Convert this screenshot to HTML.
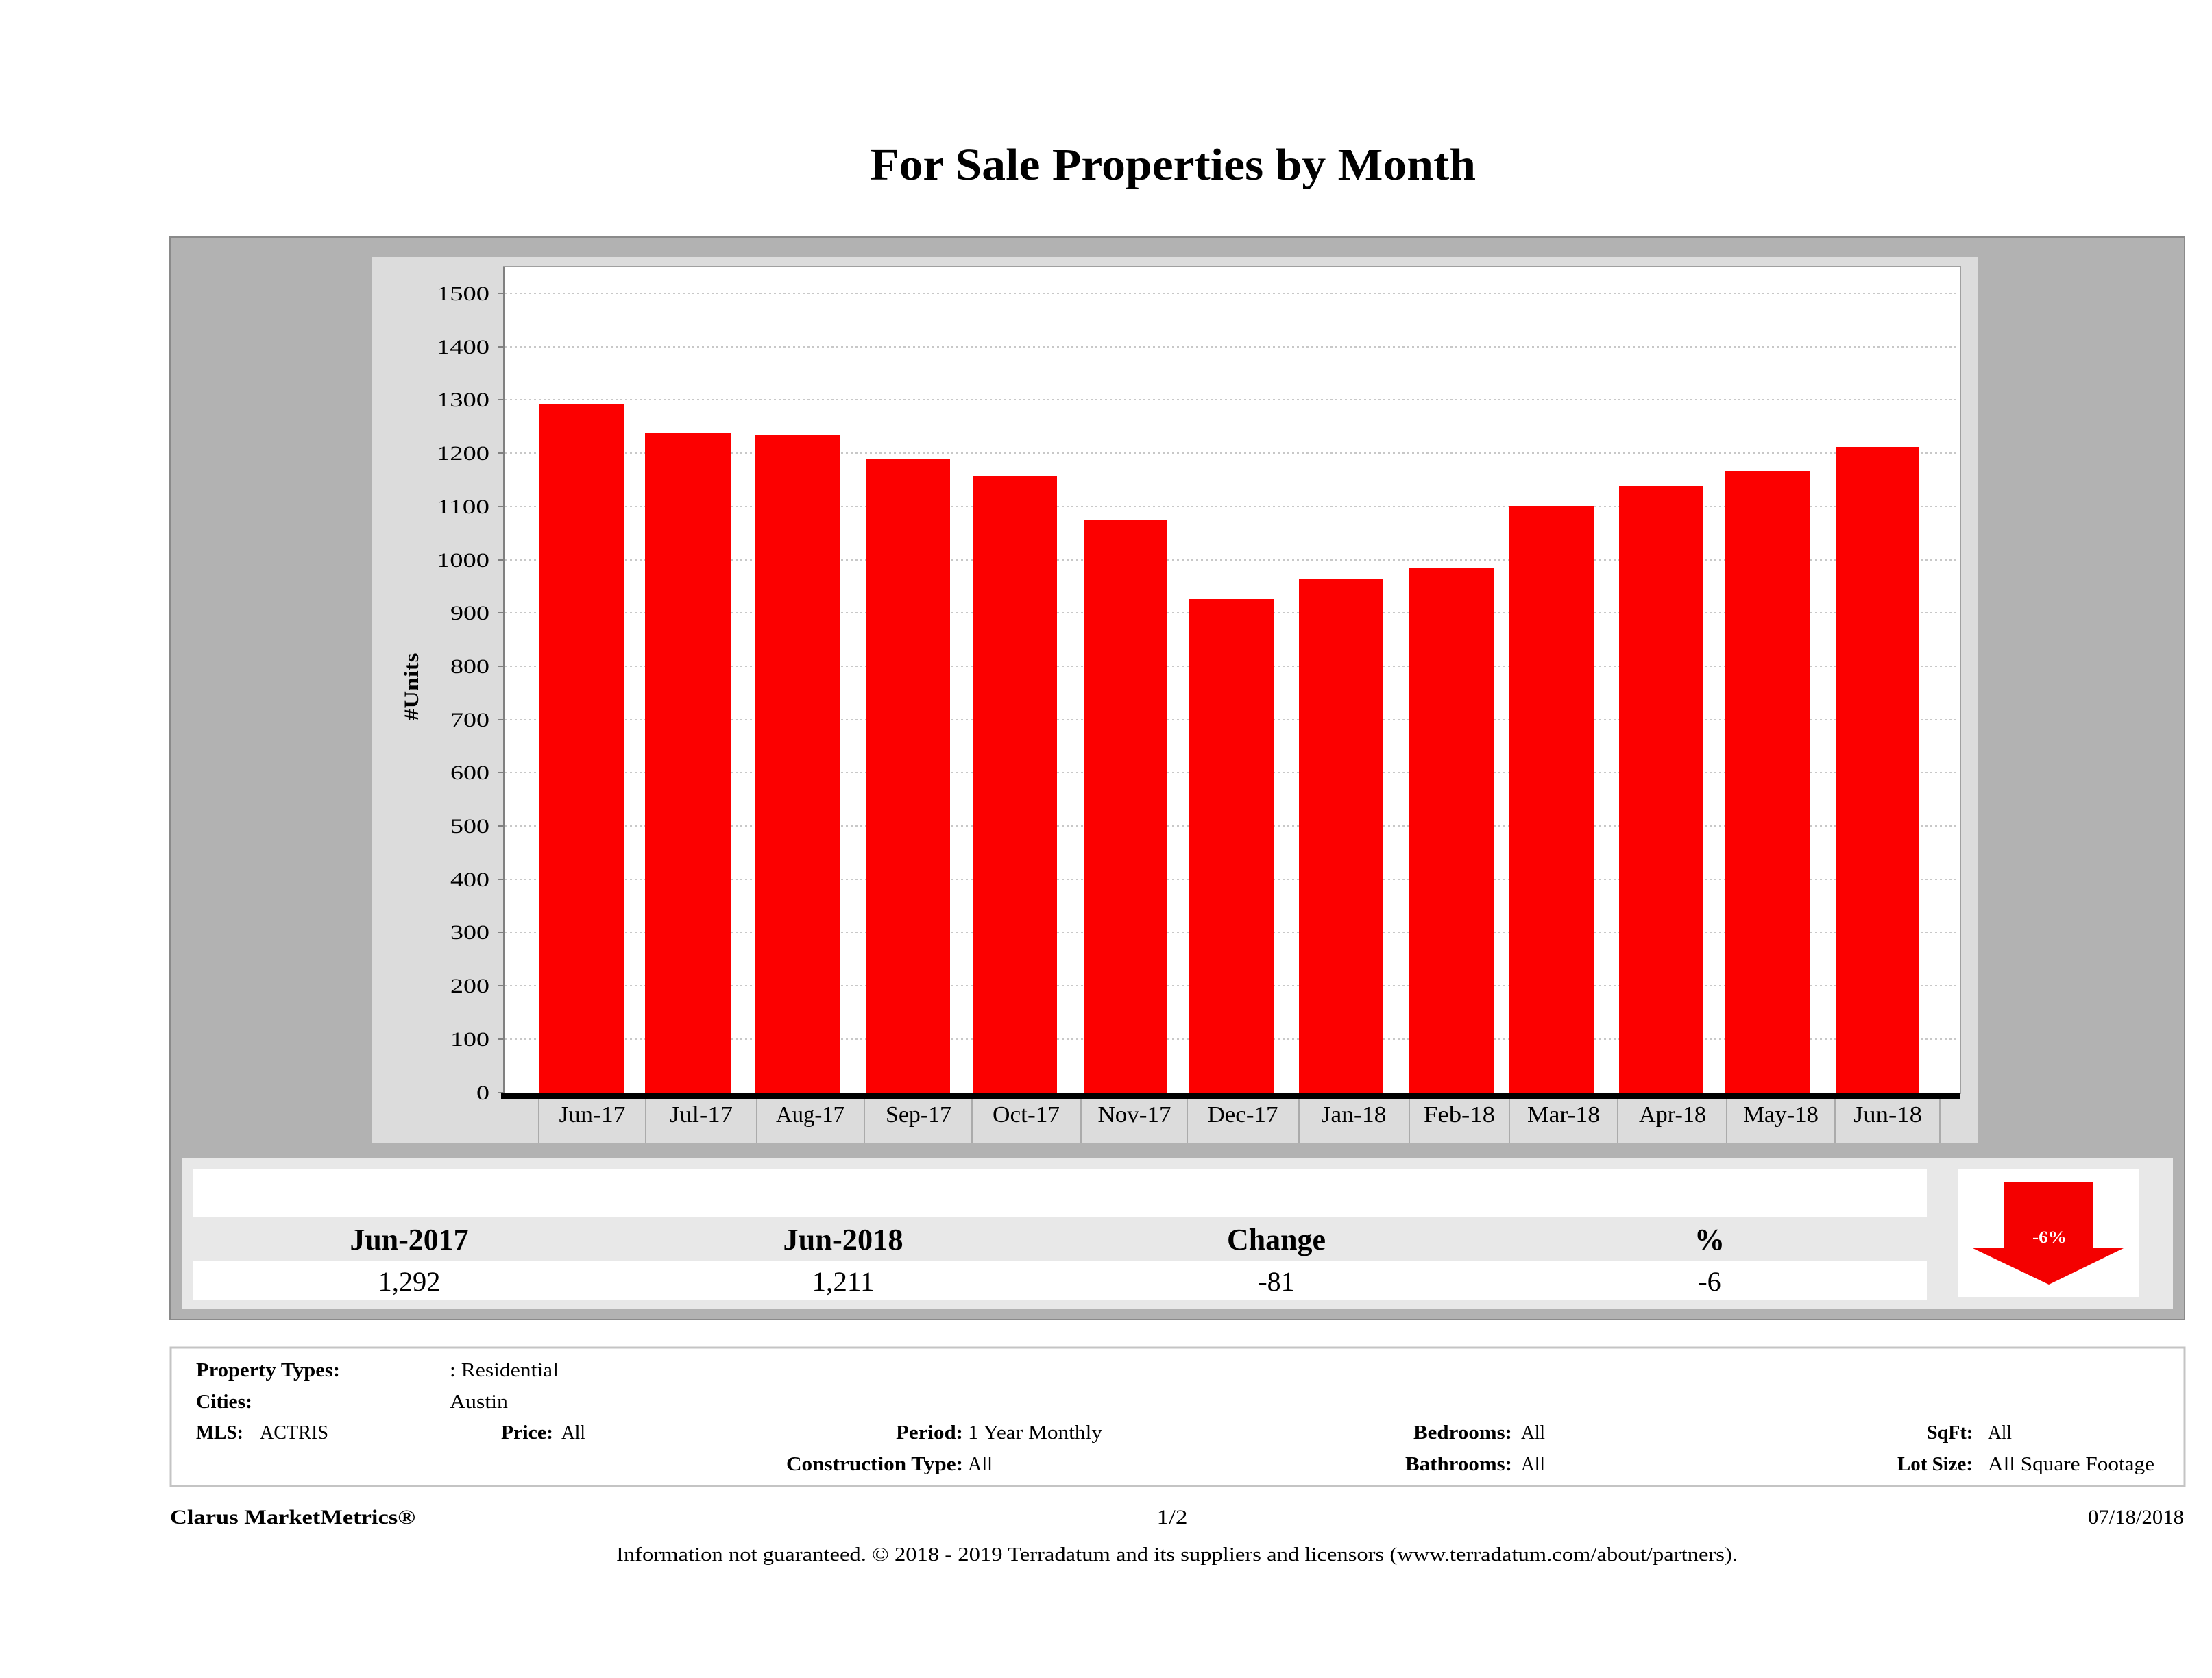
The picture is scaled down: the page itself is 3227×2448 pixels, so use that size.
<!DOCTYPE html>
<html>
<head>
<meta charset="utf-8">
<style>
  html, body { margin:0; padding:0; background:#ffffff; }
  svg { display:block; }
  text { font-family: "Liberation Serif", serif; fill:#000; }
  .b { font-weight:bold; }
</style>
</head>
<body>
<svg width="3227" height="2448" viewBox="0 0 3227 2448" xmlns="http://www.w3.org/2000/svg">
  <rect x="0" y="0" width="3227" height="2448" fill="#ffffff"/>

  <!-- Title -->
  <text class="b" x="1711" y="262" font-size="66" text-anchor="middle" textLength="884" lengthAdjust="spacingAndGlyphs">For Sale Properties by Month</text>

  <!-- Gray panel -->
  <rect x="248" y="346" width="2939" height="1579" fill="#b2b2b2" stroke="#8a8a8a" stroke-width="2"/>

  <!-- Chart background -->
  <rect x="542" y="375" width="2343" height="1293" fill="#dcdcdc"/>

  <!-- Plot area -->
  <rect x="735" y="389" width="2125" height="1206" fill="#ffffff" stroke="#a0a0a0" stroke-width="2"/>

  <!-- Gridlines -->
  <g stroke="#c8c8c8" stroke-width="2" stroke-dasharray="3 4">
    <line x1="737" y1="428" x2="2858" y2="428"/>
    <line x1="737" y1="506" x2="2858" y2="506"/>
    <line x1="737" y1="583" x2="2858" y2="583"/>
    <line x1="737" y1="661" x2="2858" y2="661"/>
    <line x1="737" y1="739" x2="2858" y2="739"/>
    <line x1="737" y1="817" x2="2858" y2="817"/>
    <line x1="737" y1="894" x2="2858" y2="894"/>
    <line x1="737" y1="972" x2="2858" y2="972"/>
    <line x1="737" y1="1050" x2="2858" y2="1050"/>
    <line x1="737" y1="1127" x2="2858" y2="1127"/>
    <line x1="737" y1="1205" x2="2858" y2="1205"/>
    <line x1="737" y1="1283" x2="2858" y2="1283"/>
    <line x1="737" y1="1360" x2="2858" y2="1360"/>
    <line x1="737" y1="1438" x2="2858" y2="1438"/>
    <line x1="737" y1="1516" x2="2858" y2="1516"/>
  </g>

  <!-- Left axis line and ticks -->
  <line x1="735" y1="389" x2="735" y2="1598" stroke="#808080" stroke-width="2"/>
  <g stroke="#808080" stroke-width="2">
    <line x1="726" y1="428" x2="735" y2="428"/>
    <line x1="726" y1="506" x2="735" y2="506"/>
    <line x1="726" y1="583" x2="735" y2="583"/>
    <line x1="726" y1="661" x2="735" y2="661"/>
    <line x1="726" y1="739" x2="735" y2="739"/>
    <line x1="726" y1="817" x2="735" y2="817"/>
    <line x1="726" y1="894" x2="735" y2="894"/>
    <line x1="726" y1="972" x2="735" y2="972"/>
    <line x1="726" y1="1050" x2="735" y2="1050"/>
    <line x1="726" y1="1127" x2="735" y2="1127"/>
    <line x1="726" y1="1205" x2="735" y2="1205"/>
    <line x1="726" y1="1283" x2="735" y2="1283"/>
    <line x1="726" y1="1360" x2="735" y2="1360"/>
    <line x1="726" y1="1438" x2="735" y2="1438"/>
    <line x1="726" y1="1516" x2="735" y2="1516"/>
    <line x1="726" y1="1594" x2="735" y2="1594"/>
  </g>

  <!-- Y tick labels -->
  <g font-size="30" text-anchor="end">
    <text x="714" y="438" textLength="77" lengthAdjust="spacingAndGlyphs">1500</text>
    <text x="714" y="516" textLength="77" lengthAdjust="spacingAndGlyphs">1400</text>
    <text x="714" y="593" textLength="77" lengthAdjust="spacingAndGlyphs">1300</text>
    <text x="714" y="671" textLength="77" lengthAdjust="spacingAndGlyphs">1200</text>
    <text x="714" y="749" textLength="77" lengthAdjust="spacingAndGlyphs">1100</text>
    <text x="714" y="827" textLength="77" lengthAdjust="spacingAndGlyphs">1000</text>
    <text x="714" y="904" textLength="57" lengthAdjust="spacingAndGlyphs">900</text>
    <text x="714" y="982" textLength="57" lengthAdjust="spacingAndGlyphs">800</text>
    <text x="714" y="1060" textLength="57" lengthAdjust="spacingAndGlyphs">700</text>
    <text x="714" y="1137" textLength="57" lengthAdjust="spacingAndGlyphs">600</text>
    <text x="714" y="1215" textLength="57" lengthAdjust="spacingAndGlyphs">500</text>
    <text x="714" y="1293" textLength="57" lengthAdjust="spacingAndGlyphs">400</text>
    <text x="714" y="1370" textLength="57" lengthAdjust="spacingAndGlyphs">300</text>
    <text x="714" y="1448" textLength="57" lengthAdjust="spacingAndGlyphs">200</text>
    <text x="714" y="1526" textLength="57" lengthAdjust="spacingAndGlyphs">100</text>
    <text x="714" y="1604" textLength="19" lengthAdjust="spacingAndGlyphs">0</text>
  </g>

  <!-- Y axis title -->
  <text class="b" x="0" y="0" font-size="30" text-anchor="middle" transform="translate(610 1002) rotate(-90)" textLength="99" lengthAdjust="spacingAndGlyphs">#Units</text>

  <!-- Bars -->
  <g fill="#fc0000">
    <rect x="786" y="589" width="124" height="1006"/>
    <rect x="941" y="631" width="125" height="964"/>
    <rect x="1102" y="635" width="123" height="960"/>
    <rect x="1263" y="670" width="123" height="925"/>
    <rect x="1419" y="694" width="123" height="901"/>
    <rect x="1581" y="759" width="121" height="836"/>
    <rect x="1735" y="874" width="123" height="721"/>
    <rect x="1895" y="844" width="123" height="751"/>
    <rect x="2055" y="829" width="124" height="766"/>
    <rect x="2201" y="738" width="124" height="857"/>
    <rect x="2362" y="709" width="122" height="886"/>
    <rect x="2517" y="687" width="124" height="908"/>
    <rect x="2678" y="652" width="122" height="943"/>
  </g>

  <!-- X axis black band -->
  <rect x="731" y="1594" width="2128" height="9" fill="#000000"/>

  <!-- X category separators -->
  <g stroke="#ababab" stroke-width="2">
    <line x1="786" y1="1603" x2="786" y2="1668"/>
    <line x1="942" y1="1603" x2="942" y2="1668"/>
    <line x1="1104" y1="1603" x2="1104" y2="1668"/>
    <line x1="1261" y1="1603" x2="1261" y2="1668"/>
    <line x1="1418" y1="1603" x2="1418" y2="1668"/>
    <line x1="1577" y1="1603" x2="1577" y2="1668"/>
    <line x1="1732" y1="1603" x2="1732" y2="1668"/>
    <line x1="1895" y1="1603" x2="1895" y2="1668"/>
    <line x1="2056" y1="1603" x2="2056" y2="1668"/>
    <line x1="2202" y1="1603" x2="2202" y2="1668"/>
    <line x1="2360" y1="1603" x2="2360" y2="1668"/>
    <line x1="2519" y1="1603" x2="2519" y2="1668"/>
    <line x1="2677" y1="1603" x2="2677" y2="1668"/>
    <line x1="2830" y1="1603" x2="2830" y2="1668"/>
  </g>

  <!-- X labels -->
  <g font-size="34" text-anchor="middle">
    <text x="864" y="1637" textLength="97" lengthAdjust="spacingAndGlyphs">Jun-17</text>
    <text x="1023" y="1637" textLength="92" lengthAdjust="spacingAndGlyphs">Jul-17</text>
    <text x="1182" y="1637" textLength="100" lengthAdjust="spacingAndGlyphs">Aug-17</text>
    <text x="1340" y="1637" textLength="96" lengthAdjust="spacingAndGlyphs">Sep-17</text>
    <text x="1497" y="1637" textLength="98" lengthAdjust="spacingAndGlyphs">Oct-17</text>
    <text x="1655" y="1637" textLength="107" lengthAdjust="spacingAndGlyphs">Nov-17</text>
    <text x="1813" y="1637" textLength="103" lengthAdjust="spacingAndGlyphs">Dec-17</text>
    <text x="1975" y="1637" textLength="95" lengthAdjust="spacingAndGlyphs">Jan-18</text>
    <text x="2129" y="1637" textLength="104" lengthAdjust="spacingAndGlyphs">Feb-18</text>
    <text x="2281" y="1637" textLength="106" lengthAdjust="spacingAndGlyphs">Mar-18</text>
    <text x="2440" y="1637" textLength="98" lengthAdjust="spacingAndGlyphs">Apr-18</text>
    <text x="2598" y="1637" textLength="110" lengthAdjust="spacingAndGlyphs">May-18</text>
    <text x="2754" y="1637" textLength="100" lengthAdjust="spacingAndGlyphs">Jun-18</text>
  </g>

  <!-- Summary block -->
  <rect x="265" y="1689" width="2905" height="221" fill="#e8e8e8"/>
  <rect x="281" y="1705" width="2530" height="70" fill="#ffffff"/>
  <rect x="281" y="1840" width="2530" height="57" fill="#ffffff"/>

  <g font-size="44" class="b" text-anchor="middle">
    <text class="b" x="597" y="1823" textLength="173" lengthAdjust="spacingAndGlyphs">Jun-2017</text>
    <text class="b" x="1230" y="1823" textLength="175" lengthAdjust="spacingAndGlyphs">Jun-2018</text>
    <text class="b" x="1862" y="1823" textLength="144" lengthAdjust="spacingAndGlyphs">Change</text>
    <text class="b" x="2494" y="1823">%</text>
  </g>
  <g font-size="40" text-anchor="middle">
    <text x="597" y="1883" textLength="91" lengthAdjust="spacingAndGlyphs">1,292</text>
    <text x="1230" y="1883" textLength="91" lengthAdjust="spacingAndGlyphs">1,211</text>
    <text x="1862" y="1883">-81</text>
    <text x="2494" y="1883">-6</text>
  </g>

  <!-- Arrow box -->
  <rect x="2856" y="1705" width="264" height="187" fill="#ffffff"/>
  <polygon points="2923,1724 3054,1724 3054,1821 3098,1821 2989,1874 2878,1821 2923,1821" fill="#f40000"/>
  <text class="b" x="2990" y="1813" font-size="25" text-anchor="middle" style="fill:#ffffff" textLength="50" lengthAdjust="spacingAndGlyphs">-6%</text>

  <!-- Info box -->
  <rect x="249" y="1966" width="2938" height="202" fill="#ffffff" stroke="#c4c4c4" stroke-width="3"/>

  <g font-size="28">
    <text class="b" x="286" y="2008" textLength="210" lengthAdjust="spacingAndGlyphs">Property Types:</text>
    <text x="656" y="2008" textLength="159" lengthAdjust="spacingAndGlyphs">: Residential</text>

    <text class="b" x="286" y="2054" textLength="82" lengthAdjust="spacingAndGlyphs">Cities:</text>
    <text x="656" y="2054" textLength="85" lengthAdjust="spacingAndGlyphs">Austin</text>

    <text class="b" x="286" y="2099" textLength="69" lengthAdjust="spacingAndGlyphs">MLS:</text>
    <text x="379" y="2099" textLength="100" lengthAdjust="spacingAndGlyphs">ACTRIS</text>

    <text class="b" x="807" y="2099" text-anchor="end" textLength="76" lengthAdjust="spacingAndGlyphs">Price:</text>
    <text x="819" y="2099" textLength="35" lengthAdjust="spacingAndGlyphs">All</text>

    <text class="b" x="1405" y="2099" text-anchor="end" textLength="98" lengthAdjust="spacingAndGlyphs">Period:</text>
    <text x="1412" y="2099" textLength="196" lengthAdjust="spacingAndGlyphs">1 Year Monthly</text>

    <text class="b" x="1405" y="2145" text-anchor="end" textLength="258" lengthAdjust="spacingAndGlyphs">Construction Type:</text>
    <text x="1412" y="2145" textLength="36" lengthAdjust="spacingAndGlyphs">All</text>

    <text class="b" x="2206" y="2099" text-anchor="end" textLength="144" lengthAdjust="spacingAndGlyphs">Bedrooms:</text>
    <text x="2219" y="2099" textLength="35" lengthAdjust="spacingAndGlyphs">All</text>

    <text class="b" x="2206" y="2145" text-anchor="end" textLength="156" lengthAdjust="spacingAndGlyphs">Bathrooms:</text>
    <text x="2219" y="2145" textLength="35" lengthAdjust="spacingAndGlyphs">All</text>

    <text class="b" x="2878" y="2099" text-anchor="end" textLength="67" lengthAdjust="spacingAndGlyphs">SqFt:</text>
    <text x="2900" y="2099" textLength="35" lengthAdjust="spacingAndGlyphs">All</text>

    <text class="b" x="2878" y="2145" text-anchor="end" textLength="110" lengthAdjust="spacingAndGlyphs">Lot Size:</text>
    <text x="2900" y="2145" textLength="243" lengthAdjust="spacingAndGlyphs">All Square Footage</text>
  </g>

  <!-- Footer -->
  <text class="b" x="248" y="2223" font-size="30" textLength="358" lengthAdjust="spacingAndGlyphs">Clarus MarketMetrics®</text>
  <text x="1710" y="2223" font-size="30" text-anchor="middle" textLength="45" lengthAdjust="spacingAndGlyphs">1/2</text>
  <text x="3186" y="2223" font-size="30" text-anchor="end" textLength="140" lengthAdjust="spacingAndGlyphs">07/18/2018</text>
  <text x="1717" y="2277" font-size="29" text-anchor="middle" textLength="1636" lengthAdjust="spacingAndGlyphs">Information not guaranteed. © 2018 - 2019 Terradatum and its suppliers and licensors (www.terradatum.com/about/partners).</text>
</svg>
</body>
</html>
